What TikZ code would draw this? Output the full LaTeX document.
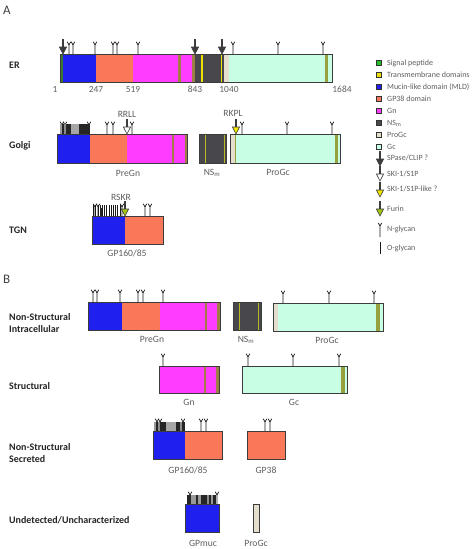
\documentclass[tikz,border=0pt]{standalone}
\usepackage{fontspec}
\setmainfont{Carlito}
\definecolor{mucColor}{RGB}{32,32,238}
\definecolor{gpColor}{RGB}{250,120,90}
\definecolor{gnColor}{RGB}{255,60,255}
\definecolor{nsColor}{RGB}{72,72,76}
\definecolor{proColor}{RGB}{228,222,205}
\definecolor{gcColor}{RGB}{200,255,228}
\definecolor{oliveColor}{RGB}{150,160,60}
\definecolor{stripeColor}{RGB}{160,125,70}
\definecolor{tmColor}{RGB}{235,225,0}
\definecolor{sigColor}{RGB}{60,120,50}
\definecolor{sigLegColor}{RGB}{40,190,40}
\definecolor{skiColor}{RGB}{240,230,0}
\definecolor{furColor}{RGB}{165,200,20}
\definecolor{arrowColor}{RGB}{60,60,60}
\definecolor{lineColor}{RGB}{60,60,60}
\definecolor{textColor}{RGB}{95,95,95}
% glycans and cleavage marks
\newcommand{\nglycan}[2]{\draw[glycan] (#1,#2) -- (#1,#2-9) -- +(-1.7,-3.2) (#1,#2-9) -- +(1.7,-3.2);}
\newcommand{\oglycan}[2]{\draw[glycan] (#1,#2) -- (#1,#2-11);}
\newcommand{\cleave}[3]{\draw[cleaveline] (#1,#2-15) -- (#1,#2-6);
  \path[fill=#3,draw=arrowColor,line width=0.6] (#1-3.6,#2-7) -- (#1+3.6,#2-7) -- (#1,#2) -- cycle;}
\begin{document}
\begin{tikzpicture}[x=1pt,y=-1pt,
  bar/.style={draw=lineColor,line width=0.8pt},
  glycan/.style={draw=black!90,line width=0.75pt},
  cleaveline/.style={draw=arrowColor,line width=1.3pt},
  rowlabel/.style={text=black!85,font=\bfseries\fontsize{10}{11.5}\selectfont,anchor=west,inner sep=0pt,align=left},
  panel/.style={text=black!75,font=\fontsize{13}{15}\selectfont,anchor=west,inner sep=0pt},
  protlabel/.style={text=textColor,font=\fontsize{9.6}{11}\selectfont,inner sep=0pt},
  poslabel/.style={text=textColor,font=\fontsize{9.4}{11}\selectfont,inner sep=0pt},
  leglabel/.style={text=textColor,font=\fontsize{8}{9}\selectfont,anchor=west,inner sep=0pt},
  legbox/.style={draw=black!80,line width=0.5pt}]
\path[use as bounding box,fill=white] (0,0) rectangle (474,549);

%% texts
\node[panel] (pa) at (3,10) {A};
\node[rowlabel] (er) at (9,65) {ER};
\node[rowlabel] (golgi) at (9,146) {Golgi};
\node[rowlabel] (tgn) at (9,230) {TGN};
\node[poslabel] (p1) at (55,89) {1};
\node[poslabel] (p247) at (96,89) {247};
\node[poslabel] (p519) at (133,89) {519};
\node[poslabel] (p843) at (195,89) {843};
\node[poslabel] (p1040) at (229,89) {1040};
\node[poslabel] (p1684) at (342,89) {1684};
\node[protlabel] (rrll) at (127,114) {RRLL};
\node[protlabel] (pregn1) at (128,173) {PreGn};
\node[protlabel] (nsm1) at (212,173) {NS\textsubscript{m}};
\node[protlabel] (rkpl) at (233,113) {RKPL};
\node[protlabel] (progc1) at (278,172) {ProGc};
\node[protlabel] (rskr) at (121,197) {RSKR};
\node[protlabel] (gp160a) at (127,253) {GP160/85};

\node[panel] (pb) at (3,279) {B};
\node[rowlabel] (nsi) at (9,323) {Non-Structural\\Intracellular};
\node[rowlabel] (str) at (9,386) {Structural};
\node[rowlabel] (nss) at (9,453) {Non-Structural\\Secreted};
\node[rowlabel] (und) at (9,520) {Undetected/Uncharacterized};
\node[protlabel] (pregn2) at (152,339) {PreGn};
\node[protlabel] (nsm2) at (246,340) {NS\textsubscript{m}};
\node[protlabel] (progc2) at (327,340) {ProGc};
\node[protlabel] (gn) at (189,402) {Gn};
\node[protlabel] (gc) at (294,402) {Gc};
\node[protlabel] (gp160b) at (188,470) {GP160/85};
\node[protlabel] (gp38) at (266,470) {GP38};
\node[protlabel] (gpmuc) at (203,543) {GPmuc};
\node[protlabel] (progc3) at (256,543) {ProGc};

% legend texts
\node[leglabel] (lsig) at (387,63) {Signal peptide};
\node[leglabel] (ltm) at (387,75) {Transmembrane domains};
\node[leglabel] (lmuc) at (387,87) {Mucin-like domain (MLD)};
\node[leglabel] (lgp) at (387,99) {GP38 domain};
\node[leglabel] (lgn) at (387,111) {Gn};
\node[leglabel] (lns) at (387,123) {NS\textsubscript{m}};
\node[leglabel] (lpro) at (387,135) {ProGc};
\node[leglabel] (lgc) at (387,147) {Gc};
\node[leglabel] (lspase) at (387,158) {SPase/CLIP ?};
\node[leglabel] (lski) at (387,174) {SKI-1/S1P};
\node[leglabel] (lskil) at (387,189) {SKI-1/S1P-like ?};
\node[leglabel] (lfur) at (387,209) {Furin};
\node[leglabel] (lnglyc) at (387,229) {N-glycan};
\node[leglabel] (loglyc) at (387,248) {O-glycan};

%% panel A
% ER precursor
\foreach \xa/\xb/\fc in {60/63/sigColor,63/96/mucColor,96/133/gpColor,133/178/gnColor,
  178/181/stripeColor,181/192/gnColor,192/195/stripeColor,195/224/nsColor,
  224/229/proColor,229/325/gcColor,325/328/oliveColor,328/332/gcColor}
  \path[fill=\fc] (\xa,54) rectangle (\xb,82);
\path[fill=tmColor] (201.4,54) rectangle (202.8,82);
\path[fill=tmColor] (220.6,54) rectangle (222,82);
\path[bar] (60,54) rectangle (332,82);
\foreach \gx in {69,73,95,113,117,138,233,278,323}
  {\nglycan{\gx}{54}}
\foreach \cx in {63,195,222}
  {\cleave{\cx}{54}{arrowColor}}

% Golgi
\foreach \xa/\xb/\fc in {57/90/mucColor,90/127/gpColor,127/172/gnColor,172/174/stripeColor,
  174/185/gnColor,185/187/stripeColor}
  \path[fill=\fc] (\xa,134) rectangle (\xb,163);
\path[bar] (57,134) rectangle (187,163);
\foreach \gx in {62,65,89,107,113,132}
  {\nglycan{\gx}{134}}
\foreach \xa/\xb/\fc in {59.5/62/black!40,62/64/black!85,64/66/black!45,66/71/black!85,
  71/79/black!35,79/90/black!85}
  \path[fill=\fc] (\xa,124) rectangle (\xb,134);
\cleave{127}{134}{white}

\path[fill=nsColor] (199,134) rectangle (226,163);
\path[fill=oliveColor!60!tmColor] (204.5,134) rectangle (205.8,163);
\path[fill=oliveColor!60!tmColor] (223.6,134) rectangle (224.8,163);
\path[bar] (199,134) rectangle (226,163);

\foreach \xa/\xb/\fc in {230/235/proColor,235/236.2/oliveColor,236.2/335/gcColor,
  335/337.5/oliveColor,337.5/340/gcColor}
  \path[fill=\fc] (\xa,134) rectangle (\xb,163);
\path[bar] (230,134) rectangle (340,163);
\foreach \gx in {242,287,332}
  {\nglycan{\gx}{134}}
\cleave{236}{134}{skiColor}

% TGN
\path[fill=mucColor] (92,216) rectangle (125,244);
\path[fill=gpColor] (125,216) rectangle (163,244);
\path[bar] (92,216) rectangle (163,244);
\foreach \gx in {95,98,122,145,150}
  {\nglycan{\gx}{216}}
\foreach \ox in {93.5,95.7,...,122}
  {\oglycan{\ox}{216}}
\path[fill=black!85] (100,208) rectangle (102,216);
\cleave{125}{216}{furColor}

%% legend
\foreach \ly/\lc in {63/sigLegColor,75/tmColor,87/mucColor,99/gpColor,111/gnColor,
  123/nsColor,135/proColor,147/gcColor}
  \path[legbox,fill=\lc] (376.5,\ly-2.5) rectangle (381.5,\ly+2.5);
\cleave{380}{166}{arrowColor}
\cleave{380}{181}{white}
\cleave{380}{197}{skiColor}
\cleave{380}{216}{furColor}
\draw[glycan] (380,237) -- (380,226) -- +(-1.7,-3) (380,226) -- +(1.7,-3);
\draw[glycan] (380,254) -- (380,242);

%% panel B
% non-structural intracellular
\foreach \xa/\xb/\fc in {88/122/mucColor,122/160/gpColor,160/205/gnColor,205/207/stripeColor,
  207/217/gnColor,217/219.5/stripeColor}
  \path[fill=\fc] (\xa,302) rectangle (\xb,330);
\path[bar] (88,302) rectangle (220,330);
\foreach \gx in {93,97,120,138,143,163}
  {\nglycan{\gx}{302}}

\path[fill=nsColor] (233,302) rectangle (261,330);
\path[fill=oliveColor!60!tmColor] (239,302) rectangle (240.3,330);
\path[fill=oliveColor!60!tmColor] (257.5,302) rectangle (258.8,330);
\path[bar] (233,302) rectangle (261,330);

\foreach \xa/\xb/\fc in {273/278/proColor,278/376/gcColor,376/380/oliveColor,380/383/gcColor}
  \path[fill=\fc] (\xa,303) rectangle (\xb,331);
\path[bar] (273,303) rectangle (383,331);
\foreach \gx in {283,329,374}
  {\nglycan{\gx}{303}}

% structural
\foreach \xa/\xb/\fc in {159/204/gnColor,204/206/stripeColor,206/216/gnColor,216/218.5/stripeColor}
  \path[fill=\fc] (\xa,366) rectangle (\xb,393);
\path[bar] (159,366) rectangle (219,393);
\nglycan{163}{366}

\path[fill=gcColor] (242,366) rectangle (347,393);
\path[fill=oliveColor] (341,366) rectangle (344.5,393);
\path[bar] (242,366) rectangle (347,393);
\foreach \gx in {248,293,339}
  {\nglycan{\gx}{366}}

% non-structural secreted
\path[fill=mucColor] (153,431) rectangle (185,459);
\path[fill=gpColor] (185,431) rectangle (222,459);
\path[bar] (153,431) rectangle (222,459);
\foreach \gx in {157,160,183,201,206}
  {\nglycan{\gx}{431}}
\foreach \xa/\xb/\fc in {154/156/black!40,156/158/black!85,158/160/black!45,160/166/black!85,
  166/176/black!35,176/180/black!85,180/182/black!45,182/184.5/black!85}
  \path[fill=\fc] (\xa,422) rectangle (\xb,431);

\path[fill=gpColor] (247,431) rectangle (285,459);
\path[bar] (247,431) rectangle (285,459);
\foreach \gx in {265,270}
  {\nglycan{\gx}{431}}

% undetected
\path[fill=mucColor] (185,504) rectangle (219,532);
\path[bar] (185,504) rectangle (219,532);
\foreach \gx in {190,217}
  {\nglycan{\gx}{504}}
\foreach \xa/\xb/\fc in {187/191/black!85,191/196/black!40,196/198/black!85,198/201/black!40,
  201/207/black!85,207/209/black!45,209/211/black!85,211/213/black!40,213/215.5/black!85}
  \path[fill=\fc] (\xa,495) rectangle (\xb,504);

\path[fill=proColor] (253,504) rectangle (259,532);
\path[bar] (253,504) rectangle (259,532);
\end{tikzpicture}
\end{document}
